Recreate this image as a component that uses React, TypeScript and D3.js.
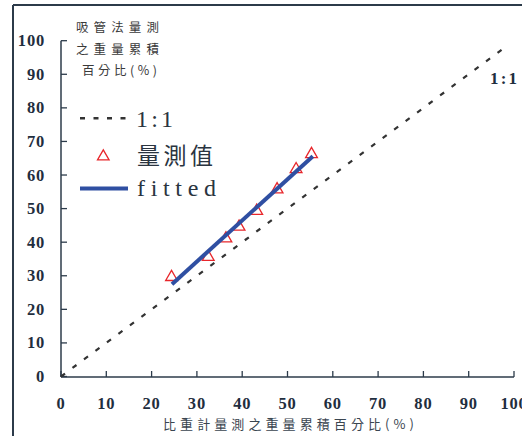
import React from "react";
import * as d3 from "d3";

const xTicks = [0, 10, 20, 30, 40, 50, 60, 70, 80, 90, 100];
const yTicks = [0, 10, 20, 30, 40, 50, 60, 70, 80, 90, 100];
const measuredX = [24.4, 32.5, 36.4, 39.3, 43.2, 47.7, 51.9, 55.3];
const measuredY = [29.6, 35.6, 41.1, 44.6, 49.3, 55.7, 61.7, 66.2];
const fittedX = [24.5, 55.6];
const fittedY = [27.5, 65.6];
const oneToOneX = [0, 98.3];
const oneToOneY = [0, 98.3];
const yTitleLines = ["吸管法量測", "之重量累積", "百分比(%)"];
const xTitle = "比重計量測之重量累積百分比(%)";
const legendLabels = ["1:1", "量測值", "fitted"];

const W = 522;
const H = 436;
const AXIS = "#2c3b4a";
const LABEL = "#1f2e3e";
const RED = "#e8262b";
const BLUE = "#2f4fa2";
const DASH = "#333333";
const SERIF = "'Liberation Serif', 'Times New Roman', serif";
const CJK = "'Noto Sans CJK TC', 'Noto Sans CJK SC', sans-serif";

export default function App() {
  const x = d3.scaleLinear().domain([0, 100]).range([61, 514]);
  const y = d3.scaleLinear().domain([0, 100]).range([376.5, 40.7]);
  const line = d3
    .line<[number, number]>()
    .x((d) => x(d[0]))
    .y((d) => y(d[1]));
  const tri = d3.symbol().type(d3.symbolTriangle).size(60)();
  const triLegend = d3.symbol().type(d3.symbolTriangle).size(58)();

  const oneToOne: [number, number][] = oneToOneX.map((v, i) => [v, oneToOneY[i]]);
  const fitted: [number, number][] = fittedX.map((v, i) => [v, fittedY[i]]);

  return (
    <svg
      width={W}
      height={H}
      style={{ position: "absolute", left: 0, top: 0, background: "#fff" }}
    >
      {/* outer frame */}
      <line x1={13} y1={5} x2={W} y2={5} stroke={AXIS} strokeWidth={2} />
      <line x1={13} y1={5} x2={13} y2={H} stroke={AXIS} strokeWidth={2} />

      {/* axes */}
      <line x1={x(0)} y1={y(100)} x2={x(0)} y2={y(0) + 0.5} stroke={AXIS} strokeWidth={1.5} />
      <line x1={x(0)} y1={y(0) + 0.5} x2={x(100)} y2={y(0) + 0.5} stroke={AXIS} strokeWidth={1.5} />
      {yTicks.map((t) => (
        <g key={"y" + t}>
          <line x1={x(0)} x2={x(0) + 6} y1={y(t)} y2={y(t)} stroke={AXIS} strokeWidth={1.3} />
          <text
            x={45}
            y={y(t) + 5.5}
            textAnchor="end"
            fontFamily={SERIF}
            fontWeight="bold"
            fontSize={16.5}
            letterSpacing={0.8}
            fill={LABEL}
          >
            {t}
          </text>
        </g>
      ))}
      {xTicks.map((t) => (
        <g key={"x" + t}>
          <line x1={x(t)} x2={x(t)} y1={y(0) + 0.5} y2={y(0) - 5.5} stroke={AXIS} strokeWidth={1.3} />
          <text
            x={x(t)}
            y={409.3}
            textAnchor="middle"
            fontFamily={SERIF}
            fontWeight="bold"
            fontSize={16.5}
            letterSpacing={0.8}
            fill={LABEL}
          >
            {t}
          </text>
        </g>
      ))}

      {/* axis titles */}
      {yTitleLines.map((s, i) => (
        <text
          key={s}
          x={i === 2 ? 82 : 76}
          y={32 + i * 21.5}
          fontFamily={CJK}
          fontSize={12.5}
          textLength={i === 2 ? 75 : 83}
          lengthAdjust="spacing"
          fill="#3a3a3a"
        >
          {s}
        </text>
      ))}
      <text
        x={163}
        y={429}
        fontFamily={CJK}
        fontSize={13}
        textLength={251}
        lengthAdjust="spacing"
        fill="#3a4550"
      >
        {xTitle}
      </text>

      {/* 1:1 line */}
      <path
        d={line(oneToOne) || ""}
        fill="none"
        stroke={DASH}
        strokeWidth={2.2}
        strokeDasharray="5,9.3"
      />
      <text
        x={490}
        y={83.5}
        fontFamily={SERIF}
        fontWeight="bold"
        fontSize={17}
        textLength={27}
        lengthAdjust="spacing"
        fill={LABEL}
      >
        1:1
      </text>

      {/* measured points */}
      {measuredX.map((v, i) => (
        <path
          key={"m" + i}
          d={tri || ""}
          transform={`translate(${x(v)},${y(measuredY[i])})`}
          fill="none"
          stroke={RED}
          strokeWidth={1.3}
        />
      ))}

      {/* fitted line */}
      <path d={line(fitted) || ""} fill="none" stroke={BLUE} strokeWidth={4} />

      {/* legend */}
      <line x1={80} x2={128} y1={118.3} y2={118.3} stroke={DASH} strokeWidth={2.5} strokeDasharray="5,8.5" />
      <text
        x={136}
        y={126.8}
        fontFamily={SERIF}
        fontSize={24}
        textLength={37}
        lengthAdjust="spacing"
        fill="#2a3440"
      >
        {legendLabels[0]}
      </text>
      <path d={triLegend || ""} transform="translate(103.3,156.5)" fill="none" stroke={RED} strokeWidth={1.3} />
      <text
        x={137}
        y={163.5}
        fontFamily={CJK}
        fontSize={23}
        textLength={76}
        lengthAdjust="spacing"
        fill="#2a3440"
      >
        {legendLabels[1]}
      </text>
      <line x1={80} x2={128} y1={188.5} y2={188.5} stroke={BLUE} strokeWidth={4} />
      <text
        x={137}
        y={196}
        fontFamily={SERIF}
        fontSize={24}
        textLength={79}
        lengthAdjust="spacing"
        fill="#2a3440"
      >
        {legendLabels[2]}
      </text>
    </svg>
  );
}
